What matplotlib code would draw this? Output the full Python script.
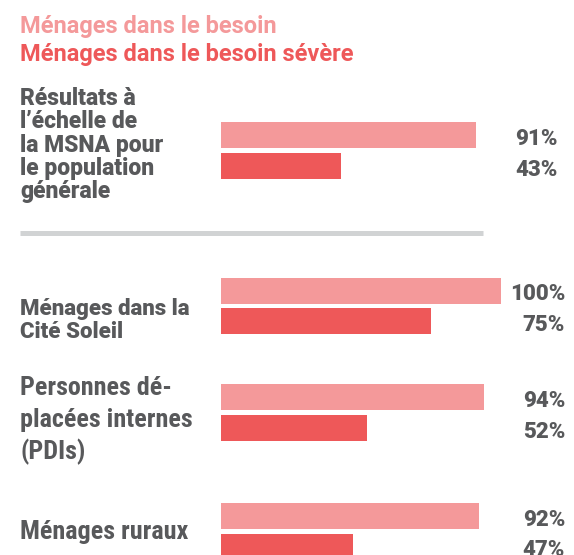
import matplotlib
matplotlib.use("Agg")
import matplotlib.pyplot as plt
from matplotlib.lines import Line2D

plt.rcParams["font.family"] = ["Roboto", "DejaVu Sans"]
plt.rcParams["font.weight"] = "bold"

# data
series = ["Ménages dans le besoin", "Ménages dans le besoin sévère"]
groups = [
    ["Résultats à", "l’échelle de", "la MSNA pour", "le population", "générale"],
    ["Ménages dans la", "Cité Soleil"],
    ["Personnes dé-", "placées internes", "(PDIs)"],
    ["Ménages ruraux"],
]
besoin = [91, 100, 94, 92]
besoin_severe = [43, 75, 52, 47]

# layout (pixels from top-left of the 574x555 canvas)
W, H = 574, 555
colors = ["#F4999A", "#EE5859"]
grey = "#58595B"
bar_h = 26
gap = 4.5
group_top = [122, 277.5, 384, 503]     # top of first bar in each group
label_base = [105, 315, 395, 539]      # baseline of first label line
line_step = [23.3, 23, 32, 23]
label_size = [16.5, 16, 18.8, 18.8]
label_condensed = [False, False, True, True]
pct_right = [558, 565, 565, 565]

fig = plt.figure(figsize=(W / 100, H / 100), dpi=100)
ax = fig.add_axes([221 / W, 0, 280 / W, 1])
ax.set_xlim(0, 100)
ax.set_ylim(H, 0)
ax.axis("off")

for i, vals in enumerate(zip(besoin, besoin_severe)):
    for j, v in enumerate(vals):
        y = group_top[i] + j * (bar_h + gap) + bar_h / 2
        ax.barh(y, v, height=bar_h, color=colors[j], left=0)
        fig.text(pct_right[i] / W, 1 - (y + 10) / H, f"{v}%", ha="right",
                 va="baseline", fontsize=16, color=grey, weight="heavy")
    if label_condensed[i]:
        fam = ["Roboto Condensed", "Roboto", "DejaVu Sans"]
        st = "condensed"
    else:
        fam = ["Roboto", "DejaVu Sans"]
        st = "normal"
    for k, line in enumerate(groups[i]):
        fig.text(20 / W, 1 - (label_base[i] + k * line_step[i]) / H, line,
                 ha="left", va="baseline", fontsize=label_size[i], color=grey,
                 family=fam, stretch=st, weight="heavy")

# legend as coloured titles
for j, name in enumerate(series):
    fig.text(20 / W, 1 - (33 + j * 28) / H, name, ha="left", va="baseline",
             fontsize=17, color=colors[j])

# separator
fig.add_artist(Line2D([20 / W, 483 / W], [1 - 233 / H, 1 - 233 / H],
                      color="#D1D3D4", lw=3.6, solid_capstyle="butt"))

fig.savefig("out.png", dpi=100)
